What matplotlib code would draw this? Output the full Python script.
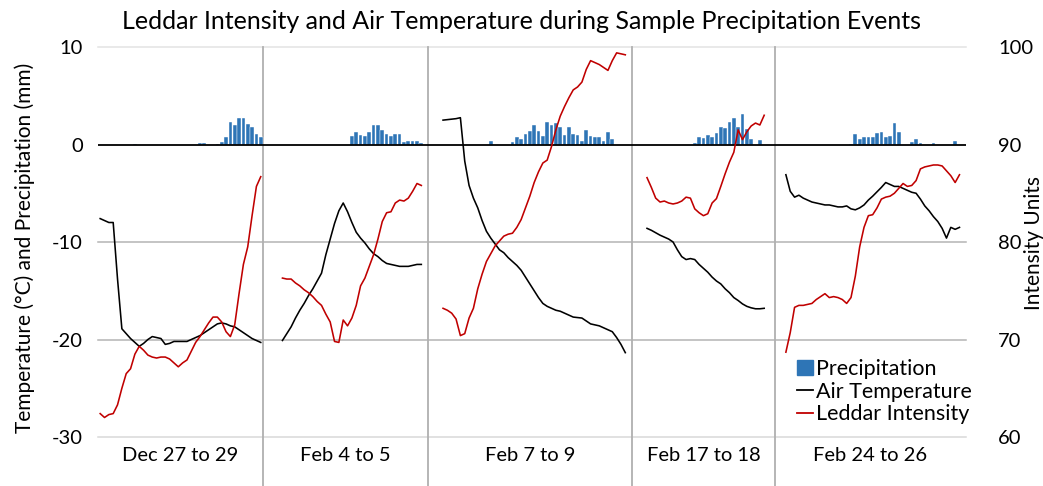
import numpy as np
import matplotlib
matplotlib.use("Agg")
import matplotlib.pyplot as plt
from matplotlib.patches import Patch
from matplotlib.lines import Line2D

nan = np.nan

periods = ["Dec 27 to 29", "Feb 4 to 5", "Feb 7 to 9", "Feb 17 to 18", "Feb 24 to 26"]
n_steps = [38, 38, 47, 33, 44]

# air temperature (deg C), one value per time step, nan = no data
temp_dec27 = [-7.6, -7.8, -8.0, -8.0, -13.8, -18.9, -19.4, -19.9, -20.3, -20.7,
              -20.4, -20.0, -19.7, -19.8, -19.9, -20.5, -20.4, -20.2, -20.2, -20.2,
              -20.2, -20.0, -19.8, -19.6, -19.3, -19.0, -18.7, -18.4, -18.3, -18.4,
              -18.6, -18.7, -19.0, -19.3, -19.6, -19.9, -20.1, -20.3]
temp_feb4 = [nan] * 4 + [-20.1, -19.4, -18.7, -17.8, -17.0, -16.3, -15.5, -14.8, -14.0, -13.2,
                         -11.3, -9.7, -8.1, -6.8, -6.0, -6.9, -8.0, -9.0, -9.6, -10.1,
                         -10.7, -11.2, -11.5, -11.9, -12.2, -12.3, -12.4, -12.5, -12.5, -12.5,
                         -12.4, -12.3, -12.3] + [nan]
temp_feb7 = [nan] * 3 + [2.5, 2.55, 2.6, 2.65, 2.75, -1.7, -4.2, -5.5, -6.5, -7.8,
                         -8.9, -9.6, -10.2, -10.8, -11.1, -11.6, -12.0, -12.4, -12.9, -13.6,
                         -14.3, -15.0, -15.7, -16.3, -16.6, -16.8, -17.0, -17.1, -17.3, -17.5,
                         -17.7, -17.75, -17.8, -18.1, -18.4, -18.5, -18.6, -18.8, -19.0, -19.2,
                         -19.8, -20.5, -21.35] + [nan]
temp_feb17 = [nan] * 3 + [-8.6, -8.8, -9.05, -9.3, -9.5, -9.7, -10.0, -10.8, -11.5, -11.8,
                          -11.7, -11.8, -12.3, -12.7, -13.1, -13.6, -14.0, -14.3, -14.8, -15.2,
                          -15.7, -16.0, -16.35, -16.6, -16.75, -16.85, -16.85, -16.8] + [nan] * 2
temp_feb24 = [nan] * 2 + [-3.1, -4.8, -5.4, -5.2, -5.5, -5.7, -5.9, -6.0, -6.1, -6.2,
                          -6.2, -6.3, -6.4, -6.4, -6.3, -6.6, -6.7, -6.5, -6.2, -5.7,
                          -5.3, -4.85, -4.4, -3.9, -4.1, -4.3, -4.3, -4.5, -4.7, -4.9,
                          -5.0, -5.6, -6.3, -6.8, -7.4, -7.9, -8.6, -9.6, -8.5, -8.7,
                          -8.5] + [nan]

# leddar intensity (intensity units)
leddar_dec27 = [62.4, 62.0, 62.3, 62.4, 63.3, 65.0, 66.5, 67.0, 68.5, 69.3,
                68.9, 68.4, 68.2, 68.1, 68.2, 68.2, 68.0, 67.6, 67.2, 67.6,
                67.9, 68.8, 69.7, 70.3, 71.0, 71.7, 72.3, 72.3, 71.8, 70.8,
                70.3, 71.5, 74.7, 77.7, 79.5, 82.7, 85.7, 86.7]
leddar_feb4 = [nan] * 4 + [76.3, 76.2, 76.2, 75.8, 75.5, 75.1, 74.8, 74.4, 73.9, 73.5,
                           72.6, 71.8, 69.8, 69.7, 72.0, 71.4, 72.2, 73.5, 75.5, 76.3,
                           77.5, 78.7, 80.3, 82.1, 83.0, 83.1, 84.0, 84.3, 84.2, 84.5,
                           85.2, 86.0, 85.8] + [nan]
leddar_feb7 = [nan] * 3 + [73.2, 73.0, 72.7, 72.1, 70.4, 70.6, 72.2, 73.2, 75.2, 76.7,
                           78.0, 78.8, 79.6, 80.1, 80.6, 80.8, 80.9, 81.5, 82.3, 83.5,
                           84.7, 86.1, 87.2, 88.1, 88.4, 89.8, 91.5, 92.9, 93.9, 94.8,
                           95.6, 95.9, 96.4, 97.7, 98.6, 98.4, 98.2, 97.9, 97.6, 98.6,
                           99.4, 99.3, 99.2] + [nan]
leddar_feb17 = [nan] * 3 + [86.6, 85.6, 84.5, 84.1, 84.2, 84.0, 83.9, 84.0, 84.2, 84.6,
                            84.5, 83.4, 83.0, 82.7, 82.9, 84.0, 84.45, 85.7, 87.0, 88.2,
                            89.2, 91.5, 90.5, 91.3, 91.9, 92.2, 92.0, 93.0] + [nan] * 2
leddar_feb24 = [nan] * 2 + [68.7, 70.7, 73.3, 73.5, 73.5, 73.6, 73.7, 74.1, 74.4, 74.7,
                            74.3, 74.4, 74.3, 74.1, 73.7, 74.3, 76.5, 79.5, 81.5, 82.7,
                            82.8, 83.5, 84.4, 84.6, 84.7, 85.0, 85.5, 86.0, 85.7, 85.8,
                            86.3, 87.5, 87.7, 87.8, 87.9, 87.9, 87.8, 87.3, 86.8, 86.1,
                            86.9] + [nan]

# precipitation (mm), step -> value, steps not listed are 0
precip_dec27 = {8: 0.1, 23: 0.2, 24: 0.2, 27: 0.1, 28: 0.3, 29: 0.8, 30: 2.3, 31: 1.95,
                32: 2.7, 33: 2.7, 34: 2.15, 35: 1.8, 36: 1.05, 37: 0.75}
precip_feb4 = {20: 0.85, 21: 1.3, 22: 0.95, 23: 0.9, 24: 1.3, 25: 1.95, 26: 2.05, 27: 1.5,
               28: 1.1, 29: 0.85, 30: 1.1, 31: 1.05, 32: 0.25, 33: 0.4, 34: 0.4, 35: 0.4, 36: 0.2}
precip_feb7 = {14: 0.4, 19: 0.3, 20: 0.8, 21: 0.6, 22: 1.1, 23: 1.4, 24: 2.0, 25: 1.4,
               26: 0.85, 27: 2.3, 28: 2.05, 29: 2.2, 30: 1.8, 31: 1.0, 32: 1.8, 33: 1.1,
               34: 1.0, 35: 0.4, 36: 1.5, 37: 0.85, 38: 0.8, 39: 0.8, 40: 0.4, 41: 1.25, 42: 0.55}
precip_feb17 = {14: 0.2, 15: 0.75, 16: 0.65, 17: 0.95, 18: 0.75, 19: 1.2, 20: 1.8, 21: 1.7,
                22: 2.3, 23: 2.7, 24: 1.8, 25: 3.1, 26: 1.6, 27: 0.6, 29: 0.5}
precip_feb24 = {17: 0.05, 18: 1.05, 19: 0.6, 20: 0.75, 21: 0.8, 22: 0.75, 23: 1.2, 24: 1.25,
                25: 0.75, 26: 0.85, 27: 2.2, 28: 1.25, 31: 0.3, 32: 0.55, 33: 0.15, 36: 0.15, 41: 0.35}

temps = [temp_dec27, temp_feb4, temp_feb7, temp_feb17, temp_feb24]
leddars = [leddar_dec27, leddar_feb4, leddar_feb7, leddar_feb17, leddar_feb24]
precips = [precip_dec27, precip_feb4, precip_feb7, precip_feb17, precip_feb24]

# one x axis of time steps, panels side by side
starts = np.concatenate([[0], np.cumsum(n_steps)[:-1]])
total = sum(n_steps)

plt.rcParams['font.family'] = ['Lato', 'DejaVu Sans']
plt.rcParams['axes.unicode_minus'] = False

fig = plt.figure(figsize=(10.43, 4.86), dpi=100)
ax = fig.add_axes([98 / 1043, 1 - 437 / 486, 868 / 1043, 390 / 486])
ax2 = ax.twinx()

blue = '#2E75B6'
red = '#C00000'

for s, n, t, l, p in zip(starts, n_steps, temps, leddars, precips):
    x = np.arange(s, s + n)
    px = [s + k for k in p]
    ax.bar(px, list(p.values()), width=0.85, color=blue, edgecolor='white', linewidth=0.3, zorder=3)
    ax.plot(x, t, color='black', lw=1.15, zorder=4)
    ax2.plot(x, l, color=red, lw=1.15, zorder=4)

ax.set_xlim(-0.5, total - 0.5)
ax.set_ylim(-30, 10)
ax2.set_ylim(60, 100)
ax.set_yticks([-30, -20, -10, 0, 10])
ax2.set_yticks([60, 70, 80, 90, 100])
ax.set_xticks([])

for y, c in [(-30, '#d9d9d9'), (-20, '#b4b4b4'), (-10, '#b4b4b4'), (10, '#e3e3e3')]:
    ax.axhline(y, color=c, lw=1.1, zorder=1, clip_on=False)
ax.axhline(0, color='black', lw=1.3, zorder=5)

# separators between events, down past the labels
for b in np.cumsum(n_steps)[:-1]:
    ax.plot([b - 0.5, b - 0.5], [-0.13, 1], color='#b0b0b0', lw=1.3,
            transform=ax.get_xaxis_transform(), clip_on=False, zorder=2)

for s, n, name in zip(starts, n_steps, periods):
    ax.text(s + n / 2 - 0.5, -0.047, name, transform=ax.get_xaxis_transform(),
            ha='center', va='center', fontsize=14.5)

for a in (ax, ax2):
    for sp in a.spines.values():
        sp.set_visible(False)
    a.tick_params(length=0, labelsize=14.5)
ax.tick_params(axis='y', pad=11)
ax2.tick_params(axis='y', pad=23)

fig.text(25 / 1043, 0.49, 'Temperature (°C) and Precipitation (mm)', rotation=90,
         ha='center', va='center', fontsize=15)
fig.text(1034 / 1043, 0.50, 'Intensity Units', rotation=90,
         ha='center', va='center', fontsize=15)
fig.suptitle('Leddar Intensity and Air Temperature during Sample Precipitation Events',
             fontsize=18, y=0.98)

handles = [Patch(color=blue), Line2D([], [], color='black', lw=1.3), Line2D([], [], color=red, lw=1.3)]
ax2.legend(handles, ['Precipitation', 'Air Temperature', 'Leddar Intensity'],
           loc='upper left', bbox_to_anchor=(0.805, 0.2), frameon=False, fontsize=15.5,
           handlelength=0.75, handletextpad=0.15, labelspacing=0.12, borderpad=0,
           borderaxespad=0)

fig.savefig('out.png', dpi=100)
